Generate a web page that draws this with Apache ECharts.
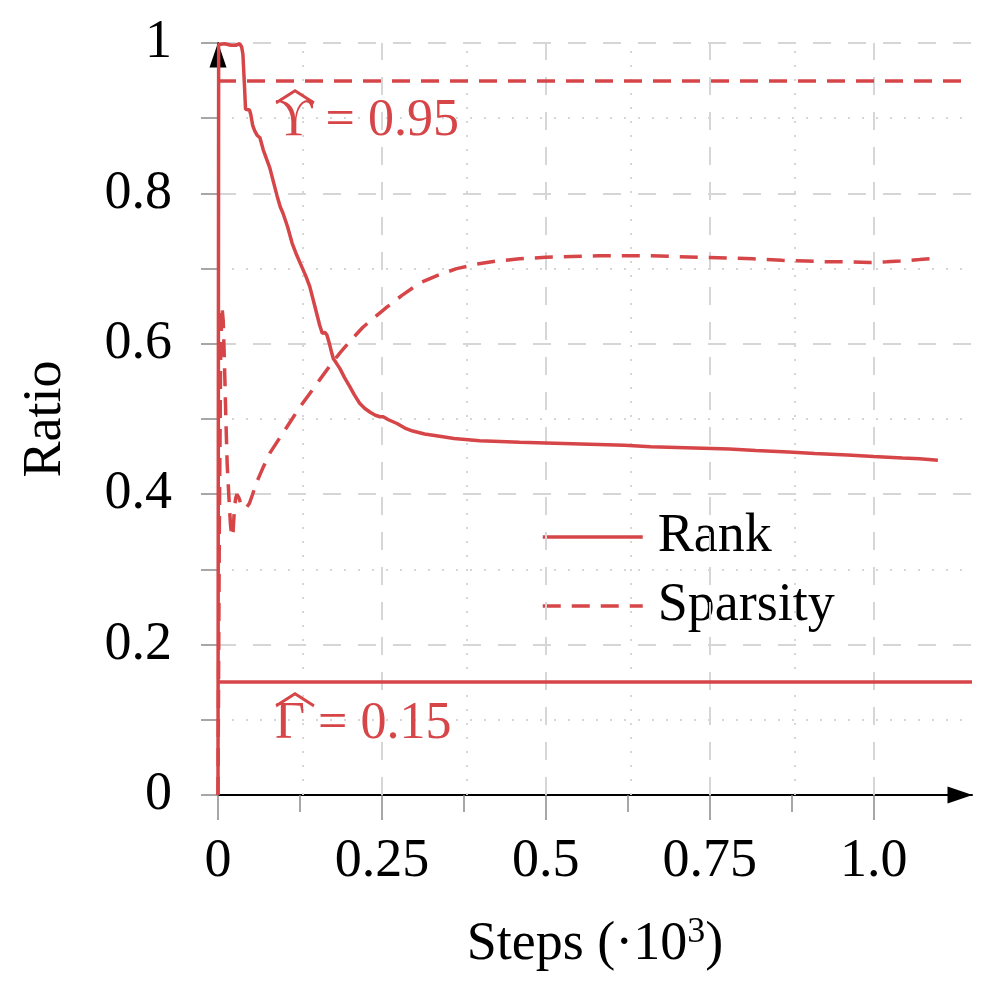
<!DOCTYPE html>
<html>
<head>
<meta charset="utf-8">
<script src="https://cdn.jsdelivr.net/npm/echarts@6/dist/echarts.min.js"></script>
<style>
html,body{margin:0;padding:0;background:#fff;}
#c{width:999px;height:1001px;}
</style>
</head>
<body>
<div id="c"></div>
<script>
// ---- data ----
const xTickValues = [0, 0.25, 0.5, 0.75, 1.0];
const xTickLabels = ['0', '0.25', '0.5', '0.75', '1.0'];
const xMinorTicks = [0.125, 0.375, 0.625, 0.875];
const yTickValues = [0, 0.2, 0.4, 0.6, 0.8, 1];
const seriesNames = ['Rank', 'Sparsity'];
const rankData = [
  [0,0],[0.001,0.998],[0.01,0.999],[0.02,0.997],[0.027,0.997],[0.033,0.999],[0.036,0.995],
  [0.038,0.985],[0.040,0.95],[0.042,0.912],[0.048,0.911],[0.050,0.905],[0.053,0.89],[0.056,0.883],
  [0.060,0.877],[0.064,0.874],[0.069,0.858],[0.079,0.834],[0.090,0.797],[0.095,0.782],[0.099,0.774],
  [0.106,0.756],[0.113,0.734],[0.120,0.718],[0.128,0.702],[0.134,0.690],[0.140,0.676],[0.148,0.649],
  [0.155,0.625],[0.159,0.614],[0.163,0.615],[0.166,0.612],[0.170,0.600],[0.174,0.586],[0.176,0.580],
  [0.180,0.575],[0.186,0.567],[0.193,0.555],[0.201,0.543],[0.208,0.532],[0.216,0.521],[0.224,0.514],
  [0.232,0.509],[0.240,0.505],[0.247,0.503],[0.252,0.503],[0.260,0.499],[0.273,0.494],[0.285,0.488],
  [0.297,0.484],[0.315,0.480],[0.338,0.477],[0.36,0.474],[0.399,0.471],[0.43,0.470],[0.46,0.469],
  [0.5,0.468],[0.54,0.467],[0.58,0.466],[0.62,0.465],[0.66,0.463],[0.70,0.462],[0.74,0.461],
  [0.78,0.460],[0.82,0.458],[0.87,0.456],[0.91,0.454],[0.96,0.452],[1.0,0.450],[1.044,0.448],
  [1.07,0.447],[1.098,0.445]
];
const sparsityData = [
  [0,0],[0.002,0.35],[0.004,0.58],[0.006,0.65],[0.008,0.63],[0.010,0.57],[0.012,0.50],[0.014,0.44],
  [0.017,0.39],[0.019,0.36],[0.021,0.343],[0.023,0.35],[0.025,0.38],[0.027,0.395],[0.029,0.40],
  [0.032,0.395],[0.036,0.384],[0.040,0.381],[0.044,0.383],[0.048,0.388],[0.052,0.398],[0.060,0.418],
  [0.069,0.436],[0.080,0.456],[0.095,0.476],[0.110,0.496],[0.125,0.516],[0.14,0.534],[0.155,0.552],
  [0.17,0.570],[0.186,0.588],[0.203,0.605],[0.221,0.622],[0.24,0.636],[0.258,0.649],[0.28,0.664],
  [0.308,0.681],[0.335,0.691],[0.364,0.700],[0.395,0.706],[0.425,0.710],[0.46,0.713],[0.50,0.715],
  [0.54,0.716],[0.58,0.717],[0.62,0.717],[0.66,0.717],[0.70,0.716],[0.735,0.715],[0.78,0.714],
  [0.816,0.713],[0.86,0.711],[0.898,0.710],[0.93,0.709],[0.963,0.709],[0.994,0.708],[1.02,0.709],
  [1.04,0.710],[1.07,0.712],[1.098,0.714]
];
const upsilonThreshold = 0.95;
const gammaThreshold = 0.15;
const annotationTexts = ['\u03D2 = 0.95', '\u0393 = 0.15'];
const annotationAnchors = [[0.087, 0.896], [0.087, 0.094]];
const hatAnchors = [[0.1174, 0.944], [0.1174, 0.142]];

// ---- style ----
const RED = '#d64548';
const GRID = '#d6d6d6';
const FONT = 'Liberation Serif';
const XMAX = 1.15;

const chart = echarts.init(document.getElementById('c'), null, {renderer: 'canvas'});

const vMajor = xTickValues.filter(v => v > 0).map(v => ({xAxis: v, lineStyle: {type: [18, 17], color: GRID, width: 2}}));
const vMinor = xMinorTicks.map(v => ({xAxis: v, lineStyle: {type: [2, 12], color: GRID, width: 2}}));

const option = {
  animation: false,
  backgroundColor: '#fff',
  grid: {left: 218, top: 43, width: 754, height: 752, containLabel: false},
  legend: {
    orient: 'vertical', left: 536, top: 505,
    itemWidth: 100, itemHeight: 16, itemGap: 15,
    data: seriesNames,
    itemStyle: {opacity: 0},
    lineStyle: {width: 3.5},
    textStyle: {fontFamily: FONT, fontSize: 54, color: '#000', padding: [0, 0, 0, 10]},
  },
  xAxis: [{
    type: 'value', min: 0, max: XMAX, interval: 0.25,
    name: '{a|Steps (\u00B710}{s|3}{a|)}', nameLocation: 'middle', nameGap: 120,
    nameTextStyle: {rich: {
      a: {fontFamily: FONT, fontSize: 54, color: '#000'},
      s: {fontFamily: FONT, fontSize: 36, color: '#000', padding: [0, 0, 24, 0]}
    }},
    axisLine: {show: true, onZero: false, lineStyle: {color: '#000', width: 2}, symbol: ['none', 'triangle'], symbolSize: [17, 25], symbolOffset: [0, -12]},
    axisTick: {show: true, customValues: xTickValues, length: 25, lineStyle: {color: '#8a8a8a', width: 1.5}},
    axisLabel: {show: true, customValues: xTickValues, margin: 40, fontFamily: FONT, fontSize: 54, color: '#000',
      formatter: v => { const i = xTickValues.findIndex(t => Math.abs(t - v) < 1e-9); return i >= 0 ? xTickLabels[i] : ''; }},
    splitLine: {show: false}
  }, {
    type: 'value', min: 0, max: XMAX, interval: 0.25, position: 'bottom',
    axisLine: {show: false},
    axisTick: {show: true, customValues: xMinorTicks, length: 17, lineStyle: {color: '#8a8a8a', width: 1.5}},
    axisLabel: {show: false},
    splitLine: {show: false}
  }],
  yAxis: {
    type: 'value', min: 0, max: 1, interval: 0.2,
    name: 'Ratio', nameLocation: 'middle', nameGap: 145, nameRotate: 90,
    nameTextStyle: {fontFamily: FONT, fontSize: 54, color: '#000'},
    axisLine: {show: true, onZero: false, lineStyle: {color: '#000', width: 2}, symbol: ['none', 'triangle'], symbolSize: [17, 25], symbolOffset: [0, -12]},
    axisTick: {show: true, length: 17, lineStyle: {color: '#8a8a8a', width: 1.5}},
    minorTick: {show: true, splitNumber: 2, length: 17, lineStyle: {color: '#8a8a8a', width: 1.5}},
    axisLabel: {margin: 46, fontFamily: FONT, fontSize: 54, color: '#000'},
    splitLine: {show: true, lineStyle: {color: GRID, width: 2, type: [18, 17]}},
    minorSplitLine: {show: true, lineStyle: {color: GRID, width: 2, type: [2, 12]}}
  },
  series: [
    {
      name: 'grid-lines', type: 'line', data: [], silent: true, z: 1,
      markLine: {silent: true, symbol: 'none', label: {show: false}, animation: false, data: vMajor.concat(vMinor)}
    },
    {
      name: seriesNames[0], type: 'line', data: rankData, showSymbol: false, symbol: 'none', z: 5,
      lineStyle: {color: RED, width: 3.5}, itemStyle: {color: RED},
      markLine: {silent: true, symbol: 'none', label: {show: false},
        data: [{yAxis: gammaThreshold, lineStyle: {color: RED, width: 3.5, type: 'solid'}}]}
    },
    {
      name: seriesNames[1], type: 'line', data: sparsityData, showSymbol: false, symbol: 'none', z: 5,
      lineStyle: {color: RED, width: 3.5, type: [18, 11]}, itemStyle: {color: RED},
      markLine: {silent: true, symbol: 'none', label: {show: false},
        data: [{yAxis: upsilonThreshold, lineStyle: {color: RED, width: 3.5, type: [18, 11]}}]}
    },
    {
      name: 'annotations', type: 'scatter', symbolSize: 0, silent: true, z: 6,
      itemStyle: {opacity: 1},
      data: annotationAnchors.map((p, i) => ({value: p, label: {formatter: annotationTexts[i]}})),
      label: {show: true, position: 'right', distance: 0, fontFamily: FONT, fontSize: 52, color: RED}
    },
    {
      name: 'hats', type: 'scatter', symbolSize: 0, silent: true, z: 6,
      itemStyle: {opacity: 1},
      data: hatAnchors.map(p => ({value: p})),
      label: {show: true, position: 'inside', formatter: '\uFE3F', fontFamily: 'Noto Sans CJK SC', fontSize: 42, color: RED}
    }
  ]
};
chart.setOption(option);
</script>
</body>
</html>
